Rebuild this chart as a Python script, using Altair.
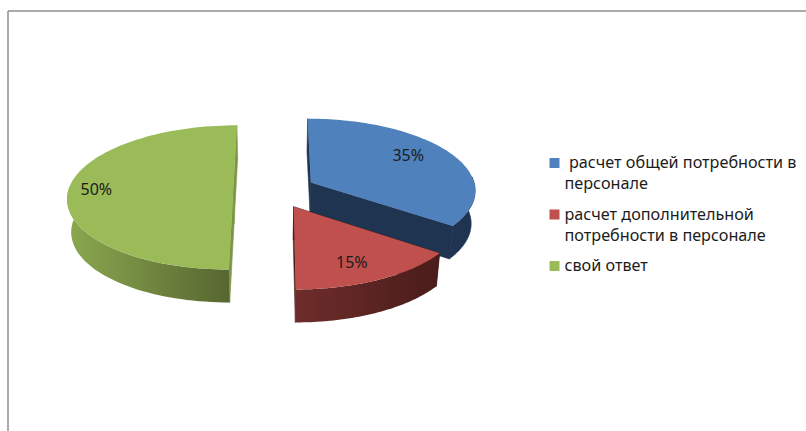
import math
import altair as alt

# Survey shares and the labels that go with them
categories = [" расчет общей потребности в\nперсонале",
              "расчет дополнительной\nпотребности в персонале",
              "свой ответ"]
shares = [35, 15, 50]
top_colors = ["#4F81BD", "#C0504D", "#9BBB59"]
cut_colors = ["#1F3450", "#4A1C1A", "#7A9645"]
wall_stops = [["#1F3450", "#1F3450"], ["#6E2D2B", "#491C1A"], ["#8BA84F", "#576631"]]

# Perspective pie geometry (pixels)
CX, CY = 274.5, 190.4      # projected pie centre
RX, RY = 165.0, 71.4       # radii of the tilted disc
TILT = 0.097               # foreshortening of near versus far side
EXPLODE = 0.25             # slice pull-out, in radii
DEPTH = 33.0               # wall height
SHRINK = 0.98              # lower rim narrows slightly with distance
FONT = "Noto Sans"
TEXT = "#1c1c1c"

# Label placement within each slice: radius and angle away from the bisector
LABEL_R = [0.74, 0.77, 0.83]
LABEL_SHIFT = [-5, 3, 0]


def project(u, v):
    s = 1 / (1 - TILT * v)
    return [CX + RX * u * s, CY + RY * v * s]


def lower(p):
    return [CX + (p[0] - CX) * SHRINK, p[1] + DEPTH]


def feature(ring):
    ring = ring + [ring[0]]
    return {"type": "Feature", "properties": {},
            "geometry": {"type": "Polygon", "coordinates": [ring]}}


def polar(a, r=1.0):
    rad = math.radians(a)
    return r * math.sin(rad), -r * math.cos(rad)


total = sum(shares)
slices = []
start = 0.0
for i, share in enumerate(shares):
    end = start + 360 * share / total
    mid = (start + end) / 2
    ou, ov = polar(mid, EXPLODE)
    arc, front = [], []
    steps = 90
    for k in range(steps + 1):
        du, dv = polar(start + (end - start) * k / steps)
        p = project(ou + du, ov + dv)
        arc.append(p)
        # Only the part of the rim turned towards the viewer has a visible wall
        if dv > -0.1:
            front.append(p)
    apex = project(ou, ov)
    lu, lv = polar(mid + LABEL_SHIFT[i], LABEL_R[i])
    slices.append({
        "i": i, "depth": ov, "apex": apex, "arc": arc, "front": front,
        "label": project(ou + lu, ov + lv),
    })
    start = end

layers = []


def face(ring, fill, edge=None):
    style = {"stroke": edge, "strokeWidth": 0.6} if edge else {"strokeWidth": 0}
    return alt.Chart(alt.Data(values=[feature(ring)])).mark_geoshape(
        fill=fill, **style
    ).project(type="identity", scale=1, translate=[0, 0])


# Slices are painted from the far side towards the viewer
for s in sorted(slices, key=lambda d: d["depth"]):
    i, apex, arc, front = s["i"], s["apex"], s["arc"], s["front"]
    for rim in (arc[0], arc[-1]):
        layers.append(face([apex, rim, lower(rim), lower(apex)], cut_colors[i], cut_colors[i]))
    wall = front + [lower(p) for p in reversed(front)]
    left, right = wall_stops[i]
    if left == right:
        layers.append(face(wall, left, left))
    else:
        layers.append(face(wall, alt.LinearGradient(
            gradient="linear", x1=0, x2=1, y1=0, y2=0,
            stops=[alt.GradientStop(color=left, offset=0),
                   alt.GradientStop(color=right, offset=1)],
        )))
    layers.append(face([apex] + arc, top_colors[i]))

# Percentage labels on the slices
pct_rows = [{"t": f"{shares[s['i']]}%", "x": s["label"][0], "y": s["label"][1]} for s in slices]
layers.append(
    alt.Chart(alt.Data(values=pct_rows)).mark_text(
        font=FONT, fontSize=16, color=TEXT, align="center", baseline="middle"
    ).encode(x=alt.X("x:Q", scale=None), y=alt.Y("y:Q", scale=None), text="t:N")
)

# Legend drawn as swatches and text lines, wrapping each entry on its own rows
LEG_SWATCH_X, LEG_TEXT_X, LEG_Y, LINE_STEP, ENTRY_GAP = 554.5, 564.5, 163.0, 21.0, 30.5
LEAD_SPACE = 4.5
swatches, lines = [], []
y = LEG_Y
for name, color in zip(categories, top_colors):
    swatches.append({"x": LEG_SWATCH_X, "y": y, "c": color})
    parts = name.split("\n")
    for n, part in enumerate(parts):
        indent = LEAD_SPACE if part.startswith(" ") else 0
        lines.append({"t": part.strip(), "x": LEG_TEXT_X + indent, "y": y + n * LINE_STEP})
    y += (len(parts) - 1) * LINE_STEP + ENTRY_GAP

layers.append(
    alt.Chart(alt.Data(values=swatches)).mark_square(size=100, opacity=1, strokeWidth=0).encode(
        x=alt.X("x:Q", scale=None), y=alt.Y("y:Q", scale=None),
        color=alt.Color("c:N", scale=None),
    )
)
layers.append(
    alt.Chart(alt.Data(values=lines)).mark_text(
        font=FONT, fontSize=16.2, color=TEXT, align="left", baseline="middle"
    ).encode(x=alt.X("x:Q", scale=None), y=alt.Y("y:Q", scale=None), text="t:N")
)

# Chart frame: only the top and left edges are present
FRAME = "#8E8E8E"
layers.append(alt.Chart(alt.Data(values=[{"a": 0}])).mark_rule(color=FRAME, strokeWidth=1.5).encode(
    x=alt.value(8), y=alt.value(11), y2=alt.value(431)))
layers.append(alt.Chart(alt.Data(values=[{"a": 0}])).mark_rule(color=FRAME, strokeWidth=1.5).encode(
    x=alt.value(8), x2=alt.value(806), y=alt.value(11)))

chart = alt.layer(*layers).properties(
    width=806, height=431, padding=0, background="white",
    autosize=alt.AutoSizeParams(type="none"),
).configure_view(stroke=None)

chart.save("out.html", embed_options={"renderer": "svg", "actions": False})
